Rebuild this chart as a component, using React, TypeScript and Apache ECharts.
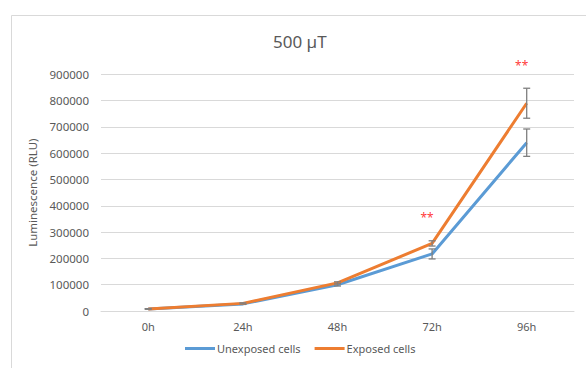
import React, { useEffect, useRef } from "react";
import * as echarts from "echarts";

// Time points after seeding
const categories = ["0h", "24h", "48h", "72h", "96h"];

// Mean luminescence (RLU)
const unexposed = [8000, 27000, 100000, 217000, 640000];
const exposed = [8000, 29000, 107000, 257000, 790000];

// Standard deviations for the error bars
const unexposedErr = [1000, 2000, 5000, 19000, 52000];
const exposedErr = [1000, 2000, 4000, 10000, 57000];

// Significance markers drawn above the exposed series
const significance = ["", "", "", "**", "**"];

const yTicks = { min: 0, max: 900000, interval: 100000 };

const BLUE = "#5B9BD5";
const ORANGE = "#ED7D31";
const TEXT = "#595959";
const FONT = "Noto Sans";

function errorData(means: number[], errs: number[]) {
  return means.map((m, i) => [i, m - errs[i], m + errs[i]]);
}

function renderErrorBar(params: any, api: any) {
  const x = api.value(0);
  const lo = api.coord([x, api.value(1)]);
  const hi = api.coord([x, api.value(2)]);
  const cap = 3.5;
  const style = { stroke: "#7F7F7F", lineWidth: 1.3 };
  return {
    type: "group",
    children: [
      { type: "line", shape: { x1: hi[0], y1: hi[1], x2: lo[0], y2: lo[1] }, style },
      { type: "line", shape: { x1: hi[0] - cap, y1: hi[1], x2: hi[0] + cap, y2: hi[1] }, style },
      { type: "line", shape: { x1: lo[0] - cap, y1: lo[1], x2: lo[0] + cap, y2: lo[1] }, style },
    ],
  };
}

export default function App() {
  const ref = useRef<HTMLDivElement>(null);

  useEffect(() => {
    if (!ref.current) return;
    const chart = echarts.init(ref.current, undefined, { renderer: "svg" });

    const starData = significance
      .map((s, i) => (s ? { value: [i, exposed[i] + exposedErr[i]], label: s } : null))
      .filter(Boolean);

    chart.setOption({
      animation: false,
      backgroundColor: "#ffffff",
      textStyle: { fontFamily: FONT },
      title: {
        text: "500 µT",
        left: 268,
        top: 28,
        textStyle: { color: TEXT, fontSize: 17, fontWeight: "normal", fontFamily: FONT },
      },
      graphic: [
        {
          type: "rect",
          shape: { x: 11.5, y: 15.5, width: 700, height: 500 },
          style: { fill: "none", stroke: "#D9D9D9", lineWidth: 1 },
          silent: true,
        },
      ],
      legend: {
        left: 180,
        bottom: 9,
        itemWidth: 30,
        itemHeight: 3,
        itemGap: 14,
        icon: "rect",
        data: ["Unexposed cells", "Exposed cells"],
        textStyle: { color: TEXT, fontSize: 11, fontFamily: FONT, padding: [0, 0, 0, -3] },
      },
      grid: { left: 101, right: 12, top: 74.3, bottom: 57 },
      xAxis: {
        type: "category",
        data: categories,
        boundaryGap: true,
        axisLine: { lineStyle: { color: "#D9D9D9", width: 1 } },
        axisTick: { show: false },
        axisLabel: { color: TEXT, fontSize: 11, margin: 10, fontFamily: FONT },
      },
      yAxis: {
        type: "value",
        min: yTicks.min,
        max: yTicks.max,
        interval: yTicks.interval,
        name: "Luminescence (RLU)",
        nameLocation: "middle",
        nameGap: 53,
        nameTextStyle: { color: TEXT, fontSize: 11.5, fontFamily: FONT },
        axisLine: { show: false },
        axisTick: { show: false },
        axisLabel: {
          color: TEXT,
          fontSize: 11.5,
          margin: 12,
          fontFamily: FONT,
          formatter: (v: number) => String(v),
        },
        splitLine: { lineStyle: { color: "#D9D9D9", width: 1 } },
      },
      series: [
        {
          name: "Unexposed cells",
          type: "line",
          data: unexposed,
          symbol: "none",
          color: BLUE,
          lineStyle: { color: BLUE, width: 3 },
          z: 2,
        },
        {
          name: "Unexposed error",
          type: "custom",
          data: errorData(unexposed, unexposedErr),
          renderItem: renderErrorBar,
          encode: { x: 0, y: [1, 2] },
          z: 3,
        },
        {
          name: "Exposed cells",
          type: "line",
          data: exposed,
          symbol: "none",
          color: ORANGE,
          lineStyle: { color: ORANGE, width: 3 },
          z: 4,
        },
        {
          name: "Exposed error",
          type: "custom",
          data: errorData(exposed, exposedErr),
          renderItem: renderErrorBar,
          encode: { x: 0, y: [1, 2] },
          z: 5,
        },
        {
          name: "Significance",
          type: "scatter",
          data: starData,
          symbolSize: 0,
          silent: true,
          label: {
            show: true,
            position: "top",
            distance: 17,
            offset: [-5, 0],
            formatter: (p: any) => p.data.label,
            color: "#FF0000",
            fontSize: 12,
            fontFamily: FONT,
          },
          z: 6,
        },
      ],
    });

    return () => chart.dispose();
  }, []);

  return (
    <div
      ref={ref}
      style={{ position: "absolute", left: 0, top: 0, width: 586, height: 368 }}
    />
  );
}
